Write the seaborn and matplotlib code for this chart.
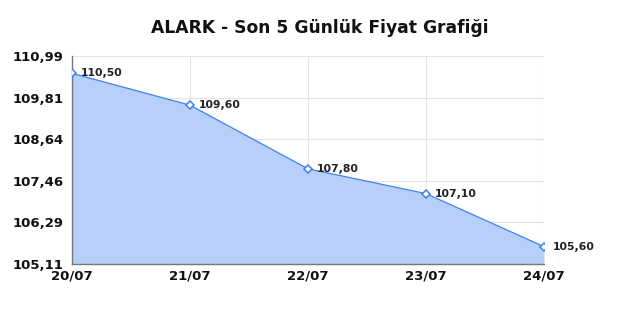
import matplotlib
matplotlib.use("Agg")
import matplotlib.pyplot as plt
import seaborn as sns
import pandas as pd
import numpy as np

dates = ["20/07", "21/07", "22/07", "23/07", "24/07"]
prices = [110.50, 109.60, 107.80, 107.10, 105.60]
y_ticks = [105.11, 106.29, 107.46, 108.64, 109.81, 110.99]

sns.set_theme(style="white")
plt.rcParams['font.family'] = ['DejaVu Sans']

df = pd.DataFrame({"x": np.arange(len(dates)), "price": prices})

fig = plt.figure(figsize=(6.4, 3.2), dpi=100)
ax = fig.add_axes([0.1125, 0.175, 0.7375, 0.65])

line_color = "#3d7ff0"
fill_color = "#b7cff9"

ax.fill_between(df["x"], df["price"], y_ticks[0], color=fill_color, zorder=1, linewidth=0)
sns.lineplot(data=df, x="x", y="price", ax=ax, color=line_color, linewidth=0.9,
             marker="D", markersize=4.5, markerfacecolor="white",
             markeredgecolor=line_color, markeredgewidth=1.1, zorder=3)

for xi, p in zip(df["x"], prices):
    ax.annotate(f"{p:.2f}".replace(".", ","), (xi, p), xytext=(6.5, 0),
                textcoords="offset points", va="center", ha="left",
                fontsize=7.8, fontweight="bold", color="#222222", zorder=4)

ax.set_xlim(0, len(dates) - 1)
ax.set_ylim(y_ticks[0], y_ticks[-1])
ax.set_xticks(df["x"])
ax.set_xticklabels(dates)
ax.set_yticks(y_ticks)
ax.set_yticklabels([f"{v:.2f}".replace(".", ",") for v in y_ticks])
ax.tick_params(axis="both", length=0, labelsize=9.5)
for lab in ax.get_xticklabels() + ax.get_yticklabels():
    lab.set_fontweight("bold")
    lab.set_color("#111111")
ax.tick_params(axis="y", pad=6)
ax.tick_params(axis="x", pad=4)

ax.grid(True, color="#e3e3e3", linewidth=0.8, zorder=0)
ax.set_axisbelow(True)
ax.set_xlabel("")
ax.set_ylabel("")

for s in ["top", "right"]:
    ax.spines[s].set_visible(False)
for s in ["left", "bottom"]:
    ax.spines[s].set_color("#777777")
    ax.spines[s].set_linewidth(1.0)

fig.suptitle("ALARK - Son 5 Günlük Fiyat Grafiği", x=0.5, y=0.94,
             fontsize=12.3, fontweight="bold", color="#111111")

fig.savefig("out.png", dpi=100, facecolor="white")
